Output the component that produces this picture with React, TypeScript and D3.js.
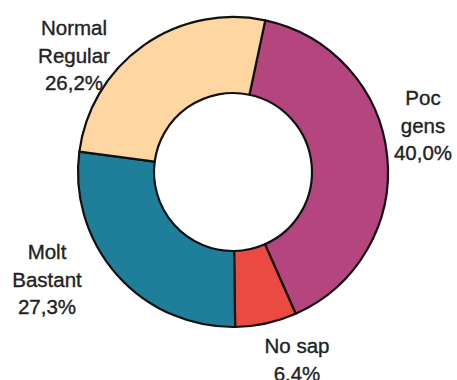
import React from "react";
import * as d3 from "d3";

const categories = ["Poc gens", "No sap", "Molt Bastant", "Normal Regular"];
const values = [40.0, 6.4, 27.3, 26.2];
const valueLabels = ["40,0%", "6.4%", "27,3%", "26,2%"];
const labelLines = [["Poc", "gens"], ["No sap"], ["Molt", "Bastant"], ["Normal", "Regular"]];
const colors = ["#b4457f", "#e94a42", "#1f7e99", "#fed6a1"];
const labelPos: [number, number][] = [[423, 105], [297, 353], [47, 259], [74, 35]];

const W = 457, H = 380;
const cx = 233, cy = 172;
const outerR = 155, innerR = 79;
const startAngle = (12 / 180) * Math.PI;

export default function App() {
  const pie = d3.pie<number>().sort(null).startAngle(startAngle).endAngle(startAngle + 2 * Math.PI);
  const arcs = pie(values);
  const arc = d3.arc<d3.PieArcDatum<number>>().innerRadius(innerR).outerRadius(outerR);
  return (
    <svg width={W} height={H} style={{ position: "absolute", left: 0, top: 0, background: "#fff" }}>
      <g transform={`translate(${cx},${cy})`}>
        {arcs.map((a, i) => (
          <path key={i} d={arc(a) || ""} fill={colors[i]} stroke="#111" strokeWidth={2.2} strokeLinejoin="round" />
        ))}
      </g>
      {categories.map((c, i) => {
        const lines = [...labelLines[i], valueLabels[i]];
        const [x, y] = labelPos[i];
        return (
          <text key={c} x={x} y={y} textAnchor="middle" fontFamily="Liberation Sans, Arial, sans-serif" fontSize={20.5} fill="#222" stroke="#222" strokeWidth={0.35}>
            {lines.map((l, j) => (
              <tspan key={j} x={x} dy={j === 0 ? 0 : 27.5}>{l}</tspan>
            ))}
          </text>
        );
      })}
    </svg>
  );
}
